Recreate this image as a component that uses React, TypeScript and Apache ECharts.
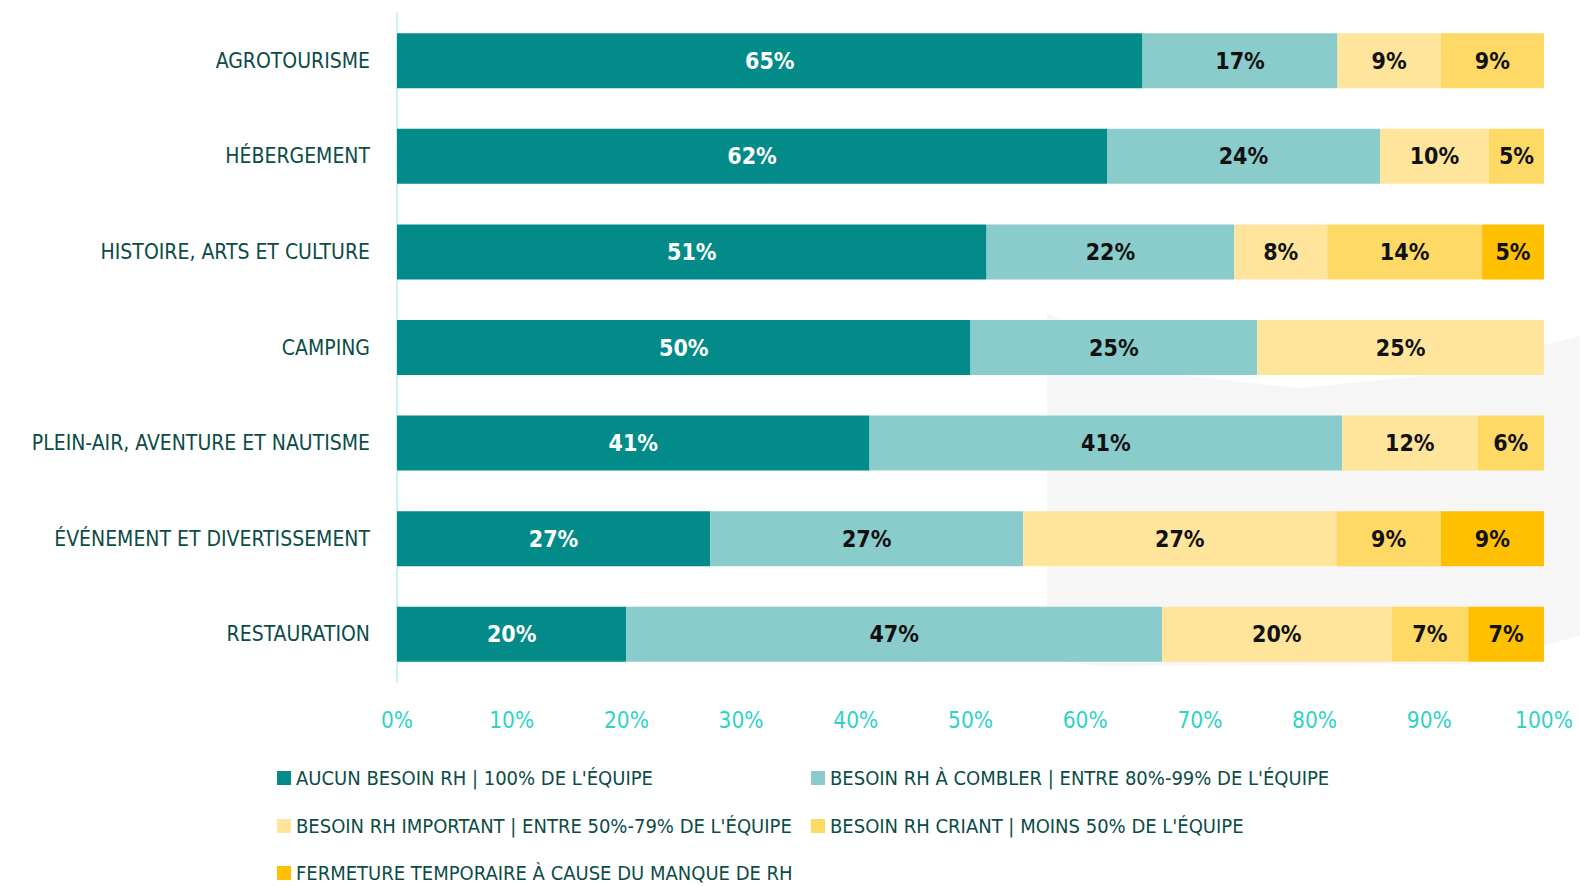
import React, { useEffect, useRef } from "react";
import * as echarts from "echarts";

const categories = [
  "AGROTOURISME",
  "HÉBERGEMENT",
  "HISTOIRE, ARTS ET CULTURE",
  "CAMPING",
  "PLEIN-AIR, AVENTURE ET NAUTISME",
  "ÉVÉNEMENT ET DIVERTISSEMENT",
  "RESTAURATION",
];

const seriesNames = [
  "AUCUN BESOIN RH | 100% DE L'ÉQUIPE",
  "BESOIN RH À COMBLER | ENTRE 80%-99% DE L'ÉQUIPE",
  "BESOIN RH IMPORTANT | ENTRE 50%-79% DE L'ÉQUIPE",
  "BESOIN RH CRIANT | MOINS 50% DE L'ÉQUIPE",
  "FERMETURE TEMPORAIRE À CAUSE DU MANQUE DE RH",
];

const aucunBesoin = [65, 61.9, 51.4, 50, 41.2, 27.3, 20];
const besoinCombler = [17, 23.8, 21.6, 25, 41.2, 27.3, 46.7];
const besoinImportant = [9, 9.5, 8.1, 25, 11.8, 27.3, 20];
const besoinCriant = [9, 4.8, 13.5, 0, 5.9, 9.1, 6.7];
const fermeture = [0, 0, 5.4, 0, 0, 9.1, 6.7];

const xTicks = [0, 10, 20, 30, 40, 50, 60, 70, 80, 90, 100];

const seriesData = [aucunBesoin, besoinCombler, besoinImportant, besoinCriant, fermeture];
const colors = ["#028b88", "#89cccb", "#fee59b", "#fed966", "#fec000"];
const labelColors = ["#ffffff", "#111111", "#111111", "#111111", "#111111"];

// legend slots: [left, centerY]
const legendSlots = [
  [277, 778],
  [811, 778],
  [277, 826],
  [811, 826],
  [277, 873],
];

const FONT = "'Liberation Sans Narrow', 'DejaVu Sans Condensed', 'Arial Narrow', sans-serif";

export default function App() {
  const ref = useRef<HTMLDivElement>(null);

  useEffect(() => {
    if (!ref.current) return;
    const chart = echarts.init(ref.current, undefined, { renderer: "svg" });
    const option: any = {
      animation: false,
      backgroundColor: "#ffffff",
      graphic: [
        {
          type: "polygon",
          z: -10,
          silent: true,
          shape: {
            points: [
              [1047, 313],
              [1190, 376],
              [1300, 388],
              [1420, 376],
              [1580, 336],
              [1580, 636],
              [1544, 645],
              [1470, 664],
              [1100, 666],
              [1047, 660],
            ],
          },
          style: { fill: "#f6f6f6" },
        },
      ],
      grid: {
        left: 397,
        right: 36,
        top: 13,
        bottom: 204,
        containLabel: false,
        outerBoundsMode: "none",
      },
      xAxis: {
        type: "value",
        min: 0,
        max: 100,
        interval: 10,
        axisLine: { show: false },
        axisTick: { show: false },
        splitLine: { show: false },
        axisLabel: {
          margin: 26,
          color: "#2fd3c6",
          fontFamily: FONT,
          fontSize: 22.5,
          formatter: (v: number) => (xTicks.includes(v) ? v + "%" : ""),
        },
      },
      yAxis: {
        type: "category",
        inverse: true,
        data: categories,
        axisLine: { show: true, lineStyle: { color: "#c9f4f1", width: 2 } },
        axisTick: { show: false },
        axisLabel: {
          margin: 27,
          color: "#0b4c47",
          fontFamily: FONT,
          fontSize: 21,
        },
      },
      legend: seriesNames.map((name, i) => ({
        orient: "horizontal",
        left: legendSlots[i][0],
        top: legendSlots[i][1] - 12,
        itemWidth: 14,
        itemHeight: 14,
        icon: "rect",
        data: [name],
        padding: 0,
        textStyle: { color: "#0b4c47", fontFamily: FONT, fontSize: 20, lineHeight: 24 },
      })),
      series: seriesNames.map((name, i) => ({
        name,
        type: "bar",
        stack: "total",
        barWidth: 55,
        data: seriesData[i],
        itemStyle: { color: colors[i] },
        label: {
          show: true,
          position: "inside",
          color: labelColors[i],
          fontFamily: FONT,
          fontWeight: "bold",
          fontSize: 23,
          formatter: (p: any) => (p.value > 0 ? Math.round(p.value) + "%" : ""),
        },
      })),
    };
    chart.setOption(option);
    return () => chart.dispose();
  }, []);

  return (
    <div
      ref={ref}
      style={{ position: "fixed", left: 0, top: 0, width: 1580, height: 886 }}
    />
  );
}
